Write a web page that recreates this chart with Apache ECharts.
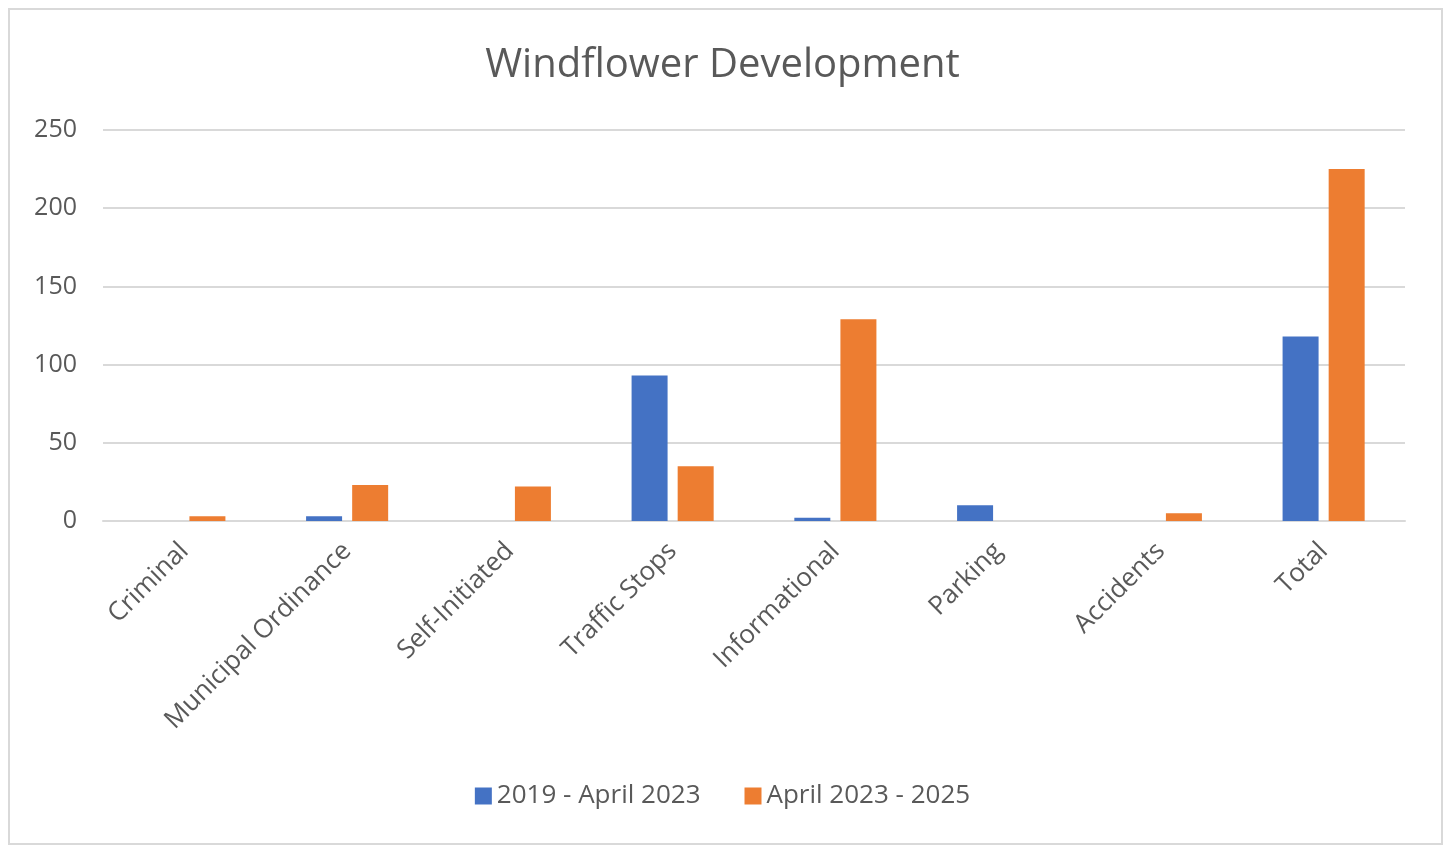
<!DOCTYPE html>
<html>
<head>
<meta charset="utf-8">
<title>Windflower Development</title>
<script src="https://cdn.jsdelivr.net/npm/echarts@6/dist/echarts.min.js"></script>
<style>
  html, body { margin: 0; padding: 0; background: #fff; }
  #frame {
    position: absolute; left: 8px; top: 8px;
    width: 1431px; height: 833px;
    border: 2px solid #d9d9d9;
  }
  #echarts { position: absolute; left: 0; top: 0; width: 1445px; height: 846px; }
</style>
</head>
<body>
<div id="frame"></div>
<div id="echarts"></div>
<script>
var categories = ['Criminal', 'Municipal Ordinance', 'Self-Initiated', 'Traffic Stops', 'Informational', 'Parking', 'Accidents', 'Total'];
var seriesNames = ['2019 - April 2023', 'April 2023 - 2025'];
var before2023 = [0, 3, 0, 93, 2, 10, 0, 118];
var after2023 = [3, 23, 22, 35, 129, 0, 5, 225];
var yTicks = [0, 50, 100, 150, 200, 250];

var FONT = '"Open Sans", "Noto Sans", sans-serif';
var TEXT = '#595959';

var myChart = echarts.init(document.getElementById('echarts'));
var option = {
    animation: false,
    color: ['#4472C4', '#ED7D31'],
    title: {
        text: 'Windflower Development',
        left: 'center',
        top: 41,
        textStyle: {
            fontFamily: FONT,
            fontSize: 40,
            fontWeight: 'normal',
            color: TEXT
        }
    },
    legend: {
        data: seriesNames,
        bottom: 32,
        left: 'center',
        itemWidth: 17,
        itemHeight: 17,
        itemGap: 44,
        icon: 'rect',
        textStyle: {
            fontFamily: FONT,
            fontSize: 26,
            color: TEXT
        }
    },
    grid: {
        left: 103,
        right: 40,
        top: 130,
        bottom: 325,
        containLabel: false
    },
    xAxis: [{
        type: 'category',
        data: categories,
        axisTick: { show: false },
        axisLine: {
            lineStyle: { color: '#d9d9d9', width: 2 }
        },
        axisLabel: {
            rotate: 45,
            interval: 0,
            margin: 26,
            fontFamily: FONT,
            fontSize: 26,
            color: TEXT
        }
    }],
    yAxis: [{
        type: 'value',
        min: yTicks[0],
        max: yTicks[yTicks.length - 1],
        interval: yTicks[1] - yTicks[0],
        axisTick: { show: false },
        axisLine: { show: false },
        splitLine: {
            lineStyle: { color: '#d9d9d9', width: 2 }
        },
        axisLabel: {
            margin: 26,
            fontFamily: FONT,
            fontSize: 25,
            color: TEXT
        }
    }],
    series: [{
            name: seriesNames[0],
            type: 'bar',
            data: before2023,
            barWidth: 36,
            barGap: '28%',
            itemStyle: { color: '#4472C4' }
        },
        {
            name: seriesNames[1],
            type: 'bar',
            data: after2023,
            barWidth: 36,
            barGap: '28%',
            itemStyle: { color: '#ED7D31' }
        }
    ]
};
myChart.setOption(option);
</script>
</body>
</html>
